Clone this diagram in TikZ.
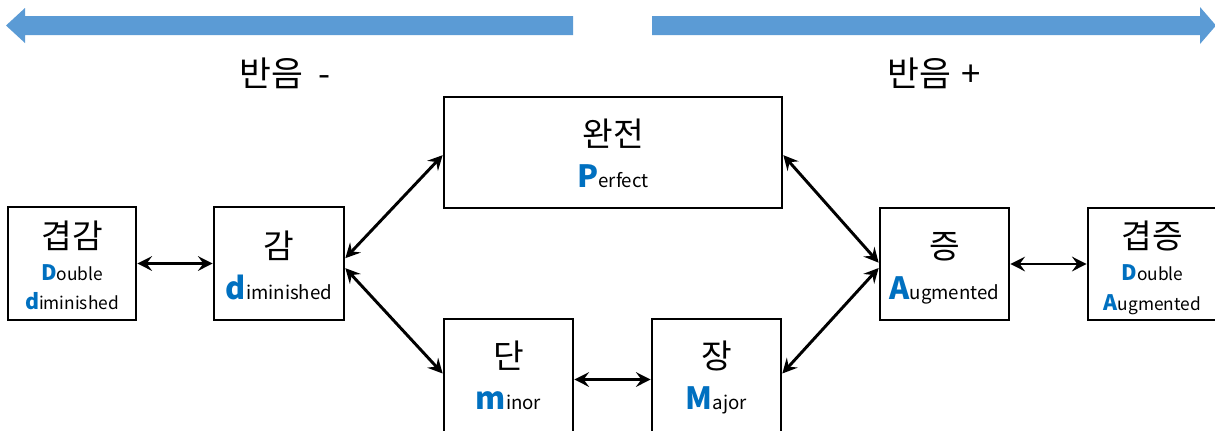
\documentclass[tikz,border=0pt]{standalone}
\usepackage{fontspec}
\setmainfont{Noto Sans CJK KR}
\usetikzlibrary{arrows.meta}
\definecolor{txtblue}{HTML}{0070C0}
\definecolor{arrblue}{HTML}{5B9BD5}
\newcommand\BigLet[2][23]{{\fontsize{#1}{#1}\selectfont\bfseries\color{txtblue}#2}}
\newcommand\SmallTx[2][14]{{\fontsize{#1}{#1}\selectfont #2}}
\begin{document}
\begin{tikzpicture}[x=0.75pt,y=-0.75pt,
  box/.style={draw=black, line width=2pt, fill=white, inner sep=0pt},
  kor/.style={anchor=base, font=\fontsize{25}{25}\selectfont, inner sep=0pt},
  eng/.style={anchor=base, inner sep=0pt},
  conn/.style={line width=2.2pt, {Stealth[length=11pt,width=11pt,inset=4pt]}-{Stealth[length=11pt,width=11pt,inset=4pt]}},
  bigarrow/.style={fill=arrblue, draw=none}]
\useasboundingbox (0,0) rectangle (1215,430);
\clip (0,0) rectangle (1215,430);
\fill[white] (0,0) rectangle (1215,430);

% big blue arrows
\path[bigarrow] (6,25.5) -- (25,8) -- (25,16) -- (573,16) -- (573,35) -- (25,35) -- (25,43) -- cycle;
\path[bigarrow] (1216,25.5) -- (1200,7) -- (1200,16) -- (652,16) -- (652,35) -- (1200,35) -- (1200,44) -- cycle;
\node[kor, font=\fontsize{26}{26}\selectfont] (minus) at (285,86) {반음\hspace{5pt} -};
\node[kor, font=\fontsize{26}{26}\selectfont] (plus) at (934,86) {반음\hspace{2pt} +};

% boxes
\node[box, minimum width=96pt, minimum height=84.75pt] (dd) at (72,263.5) {};
\node[box, minimum width=97.5pt, minimum height=84.75pt] (d) at (279,263.5) {};
\node[box, minimum width=253.5pt, minimum height=83.25pt] (P) at (613,152.5) {};
\node[box, minimum width=96.75pt, minimum height=90.75pt] (m) at (508.5,379.5) {};
\node[box, minimum width=96.75pt, minimum height=90.75pt] (M) at (716.5,379.5) {};
\node[box, minimum width=96.75pt, minimum height=84pt] (A) at (944.5,264) {};
\node[box, minimum width=96.75pt, minimum height=84pt] (AA) at (1152.5,264) {};

% texts
\node[kor] (ddk) at (72,248) {겹감};
\node[eng] (dd1) at (72,280) {\BigLet[16]{D}\SmallTx[13]{ouble}};
\node[eng] (dd2) at (72,309) {\BigLet[16]{d}\SmallTx[13]{iminished}};

\node[kor] (dk) at (279,258) {감};
\node[eng] (d1) at (279,299) {\BigLet{d}\SmallTx{iminished}};

\node[kor] (Pk) at (613,146) {완전};
\node[eng] (P1) at (613,187) {\BigLet{P}\SmallTx{erfect}};

\node[kor] (mk) at (508.5,368) {단};
\node[eng] (m1) at (508.5,409) {\BigLet{m}\SmallTx{inor}};

\node[kor] (Mk) at (716.5,368) {장};
\node[eng] (M1) at (716.5,409) {\BigLet{M}\SmallTx{ajor}};

\node[kor] (Ak) at (944.5,258) {증};
\node[eng] (A1) at (944.5,299) {\BigLet{A}\SmallTx{ugmented}};

\node[kor] (AAk) at (1152.5,248) {겹증};
\node[eng] (AA1) at (1152.5,280) {\BigLet[16]{D}\SmallTx[13]{ouble}};
\node[eng] (AA2) at (1152.5,310) {\BigLet[16]{A}\SmallTx[13]{ugmented}};

% connectors
\draw[conn] (dd) -- (d);
\draw[conn] ([yshift=4pt]d.east) -- ([yshift=-2pt]P.west);
\draw[conn] ([yshift=-3.5pt]d.east) -- ([yshift=4.5pt]m.west);
\draw[conn] ([yshift=-2pt]P.east) -- ([yshift=1pt]A.west);
\draw[conn] ([yshift=4.5pt]M.east) -- ([yshift=-3pt]A.west);
\draw[conn] (m) -- (M);
\draw[conn] (A) -- (AA);
\end{tikzpicture}
\end{document}
